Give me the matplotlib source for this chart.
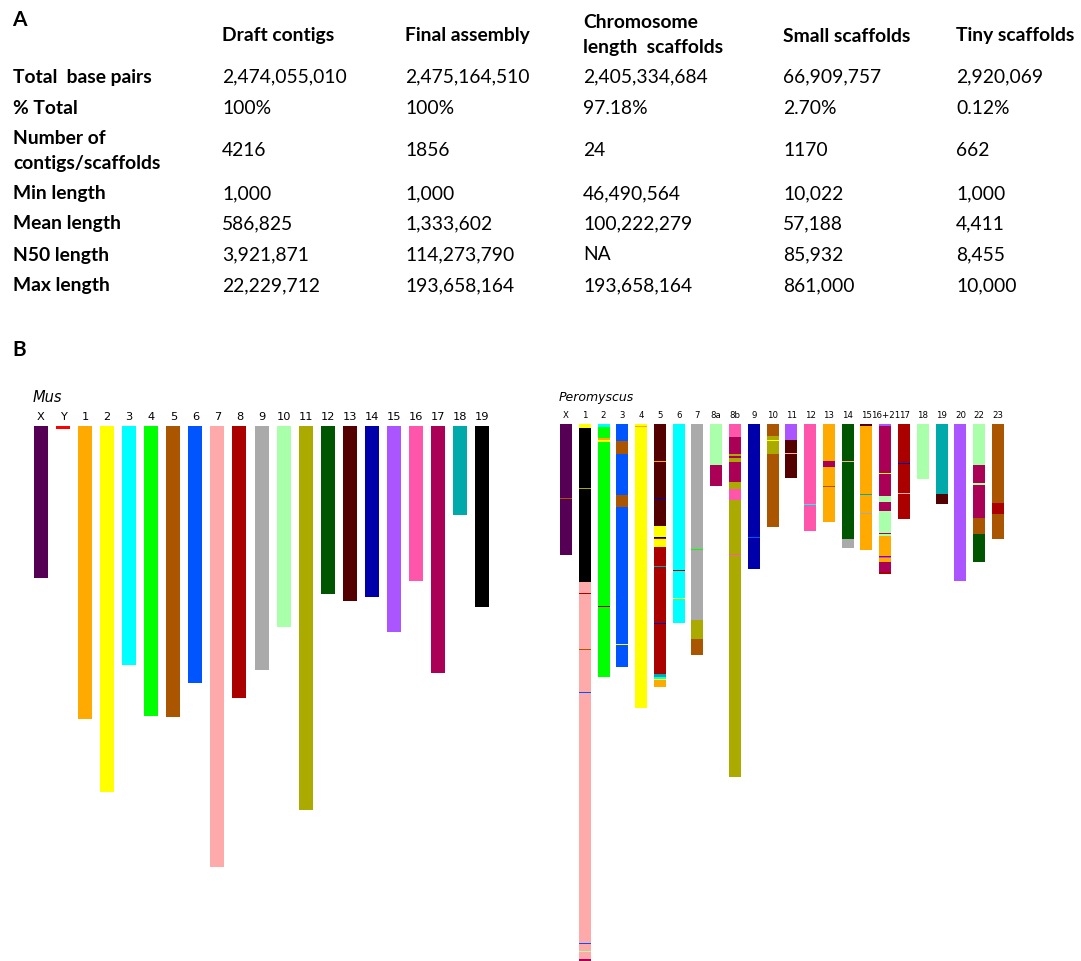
import numpy as np
import matplotlib
matplotlib.use('Agg')
import matplotlib.pyplot as plt

# ---------------------------------------------------------------- table A
col_names = ['Draft contigs', 'Final assembly', 'Chromosome\nlength  scaffolds',
             'Small scaffolds', 'Tiny scaffolds']
row_names = ['Total  base pairs', '% Total', 'Number of\ncontigs/scaffolds',
             'Min length', 'Mean length', 'N50 length', 'Max length']
draft   = ['2,474,055,010', '100%', '4216', '1,000', '586,825', '3,921,871', '22,229,712']
final   = ['2,475,164,510', '100%', '1856', '1,000', '1,333,602', '114,273,790', '193,658,164']
chrom   = ['2,405,334,684', '97.18%', '24', '46,490,564', '100,222,279', 'NA', '193,658,164']
small   = ['66,909,757', '2.70%', '1170', '10,022', '57,188', '85,932', '861,000']
tiny    = ['2,920,069', '0.12%', '662', '1,000', '4,411', '8,455', '10,000']
columns = [draft, final, chrom, small, tiny]

# ---------------------------------------------------------------- Mus karyotype
mus_names = ['X', 'Y', '1', '2', '3', '4', '5', '6', '7', '8', '9', '10',
             '11', '12', '13', '14', '15', '16', '17', '18', '19']
mus_len = [152, 3, 293, 366, 239, 290, 291, 257, 441, 272, 244, 201,
           384, 168, 175, 171, 206, 155, 247, 89, 181]
mus_col = ['#550055', '#ff0000', '#ffaa00', '#ffff00', '#00ffff', '#00ff00',
           '#aa5500', '#0055ff', '#ffaaaa', '#aa0000', '#aaaaaa', '#aaffaa',
           '#aaaa00', '#005500', '#550000', '#0000aa', '#aa55ff', '#ff55aa',
           '#aa0055', '#00aaaa', '#000000']
cmap = dict(zip(mus_names, mus_col))

# ---------------------------------------------------------------- Peromyscus
# blocks are (mus chromosome, length) from the top, bands are (mus chromosome, offset)
pero_names = ['X', '1', '2', '3', '4', '5', '6', '7', '8a', '8b', '9', '10', '11',
              '12', '13', '14', '15', '16+21', '17', '18', '19', '20', '22', '23']
pero_blocks = [
    [('X', 131)],
    [('2', 4), ('19', 154), ('7', 377), ('17', 2)],
    [('3', 3), ('4', 11), ('1', 2), ('2', 2), ('4', 235)],
    [('6', 17), ('5', 13), ('6', 41), ('5', 12), ('6', 160)],
    [('2', 284)],
    [('13', 102), ('2', 11), ('19', 1), ('8', 1), ('2', 8), ('8', 127),
     ('18', 3), ('3', 2), ('2', 1), ('1', 7)],
    [('3', 199)],
    [('9', 196), ('11', 19), ('5', 16)],
    [('10', 41), ('17', 21)],
    [('16', 13), ('17', 17), ('11', 2), ('17', 2), ('11', 4), ('17', 20),
     ('11', 7), ('16', 11), ('11', 277)],
    [('14', 145)],
    [('5', 12), ('11', 4), ('2', 1), ('11', 13), ('5', 73)],
    [('15', 16), ('13', 38)],
    [('16', 107)],
    [('1', 37), ('17', 6), ('1', 55)],
    [('12', 115), ('9', 9)],
    [('13', 2), ('1', 124)],
    [('15', 2), ('17', 70), ('10', 6), ('17', 9), ('10', 22), ('17', 1),
     ('10', 2), ('1', 20), ('17', 1), ('15', 1), ('1', 4), ('17', 10), ('8', 2)],
    [('8', 95)],
    [('10', 55)],
    [('18', 70), ('13', 10)],
    [('15', 157)],
    [('10', 41), ('17', 18), ('10', 2), ('17', 33), ('5', 16), ('12', 28)],
    [('5', 79), ('8', 11), ('5', 25)],
]
pero_bands = [
    [('5', 74)],
    [('11', 64), ('8', 169), ('5', 225), ('6', 268), ('6', 519), ('10', 527)],
    [('8', 182)],
    [('2', 220)],
    [('1', 2)],
    [('1', 37), ('14', 74), ('18', 142), ('14', 199)],
    [('8', 146), ('2', 174)],
    [('4', 125)],
    [],
    [('16', 130)],
    [('6', 113)],
    [],
    [('7', 29)],
    [('3', 80)],
    [('5', 62)],
    [('7', 37)],
    [('18', 70), ('9', 89)],
    [('2', 49)],
    [('14', 39), ('7', 69)],
    [],
    [],
    [],
    [],
    [],
]

W, H = 1081, 961
fig = plt.figure(figsize=(W / 100, H / 100), dpi=100)
ax = fig.add_axes([0, 0, 1, 1])
ax.set_xlim(0, W)
ax.set_ylim(H, 0)
ax.axis('off')

tfont = 'Lato'
fs = 13.9

# table
ax.text(12, 20, 'A', fontsize=15, fontweight='bold', family=tfont, va='center')
col_x = [222, 405, 583, 783, 956]
row_y = [77, 108, 151, 194, 224, 255, 286]
for x, name in zip(col_x, col_names):
    ax.text(x, 36 if '\n' not in name else 35, name, fontsize=fs, fontweight='bold',
            family=tfont, va='center', linespacing=1.6)
for y, name in zip(row_y, row_names):
    ax.text(13, y, name, fontsize=fs, fontweight='bold', family=tfont,
            va='center', linespacing=1.6)
for x, vals in zip(col_x, columns):
    for y, v in zip(row_y, vals):
        ax.text(x, y, v, fontsize=fs, family=tfont, va='center')

ax.text(12, 350, 'B', fontsize=15, fontweight='bold', family=tfont, va='center')

# Mus
mus_top = 426
mus_x = 41 + 22.05 * np.arange(len(mus_names))
ax.bar(mus_x, mus_len, width=14, bottom=mus_top, color=mus_col, linewidth=0)
for x, n in zip(mus_x, mus_names):
    ax.text(x, 417, n, fontsize=8.2, ha='center', va='center', family='DejaVu Sans')
ax.text(33, 397, 'Mus', fontsize=10.5, style='italic', va='center', family='DejaVu Sans')

# Peromyscus
pero_top = 424
pero_x = 566 + 18.78 * np.arange(len(pero_names))
for x, blocks, bands in zip(pero_x, pero_blocks, pero_bands):
    y0 = pero_top
    for key, ln in blocks:
        ax.bar(x, ln, width=12, bottom=y0, color=cmap[key], linewidth=0)
        y0 += ln
    for key, off in bands:
        ax.bar(x, 1.3, width=12, bottom=pero_top + off, color=cmap[key], linewidth=0)
for x, n in zip(pero_x, pero_names):
    ax.text(x, 416, n, fontsize=6.2, ha='center', va='center', family='DejaVu Sans')
ax.text(559, 398, 'Peromyscus', fontsize=9, style='italic', va='center', family='DejaVu Sans')

plt.savefig('out.png', dpi=100)
